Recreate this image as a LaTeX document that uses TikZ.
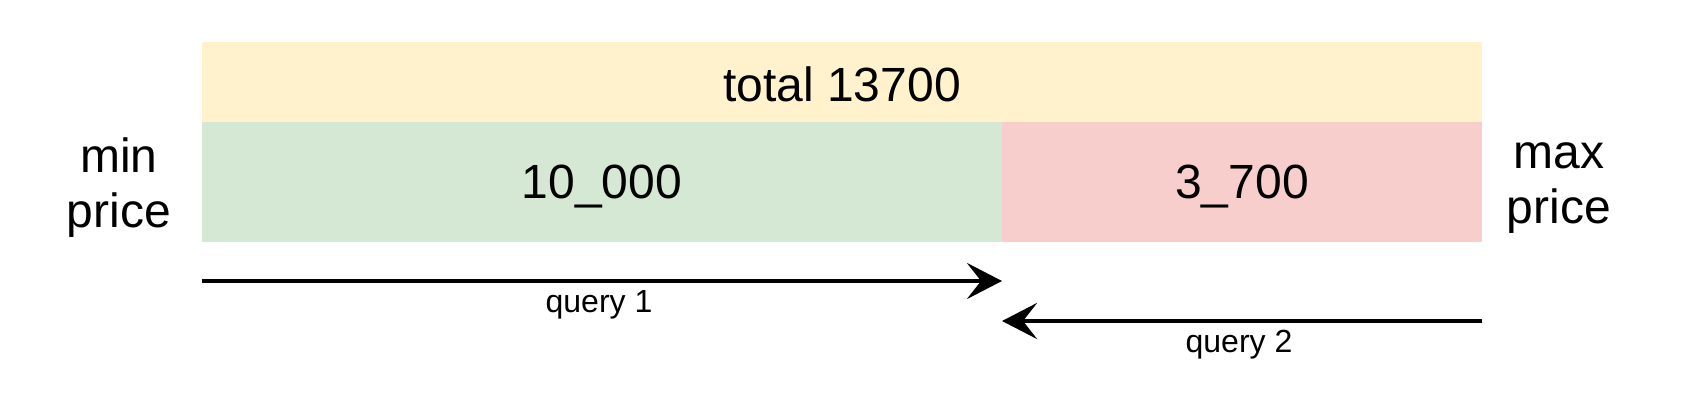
\documentclass[tikz,border=0pt]{standalone}
\usepackage{fontspec}
\setmainfont{Liberation Sans}
\usetikzlibrary{arrows.meta,positioning}

\definecolor{totalfill}{HTML}{FFF2CC}
\definecolor{lowfill}{HTML}{D5E8D4}
\definecolor{highfill}{HTML}{F8CECC}

\tikzset{
	bar/.style={inner sep=0pt, minimum height=120pt, text=black},
	big/.style={font=\fontsize{48}{55}\selectfont},
	side/.style={big, align=center},
	query/.style={line width=4pt, -{Stealth[length=35pt, width=36pt, inset=14pt]}},
	qlabel/.style={font=\fontsize{32}{36}\selectfont, inner sep=0pt}
}

\begin{document}
\begin{tikzpicture}[x=1pt, y=-1pt]
			\useasboundingbox (0,0) rectangle (1684,404);

			% bars
			\node[bar, fill=totalfill, minimum width=1280pt, minimum height=80pt] (total) at (842,82) {};
			\node[big, inner sep=0pt] (totaltext) at (842,84) {total 13700};
			\node[bar, fill=lowfill, minimum width=800pt] (low) at (602,182) {};
			\node[bar, fill=highfill, minimum width=480pt] (high) at (1242,182) {};
			\node[big, inner sep=0pt] (lowtext) at (low.center) [yshift=-5pt] {10\_000};
			\node[big, inner sep=0pt] (hightext) at (high.center) [yshift=-5pt] {3\_700};

			% sides
			\node[side] (minp) at (119,188) {min\\price};
			\node[side] (maxp) at (1559,188) {max\\price};

			% queries
			\coordinate (q1s) at (202,281);
			\coordinate (q1e) at (1002,281);
			\coordinate (q2s) at (1482,321);
			\coordinate (q2e) at (1002,321);
			\draw[query] (q1s) -- (q1e);
			\draw[query] (q2s) -- (q2e);
			\node[qlabel, anchor=base] (q1) at (599,312) {query 1};
			\node[qlabel, anchor=base] (q2) at (1239,352) {query 2};
		\end{tikzpicture}
\end{document}
